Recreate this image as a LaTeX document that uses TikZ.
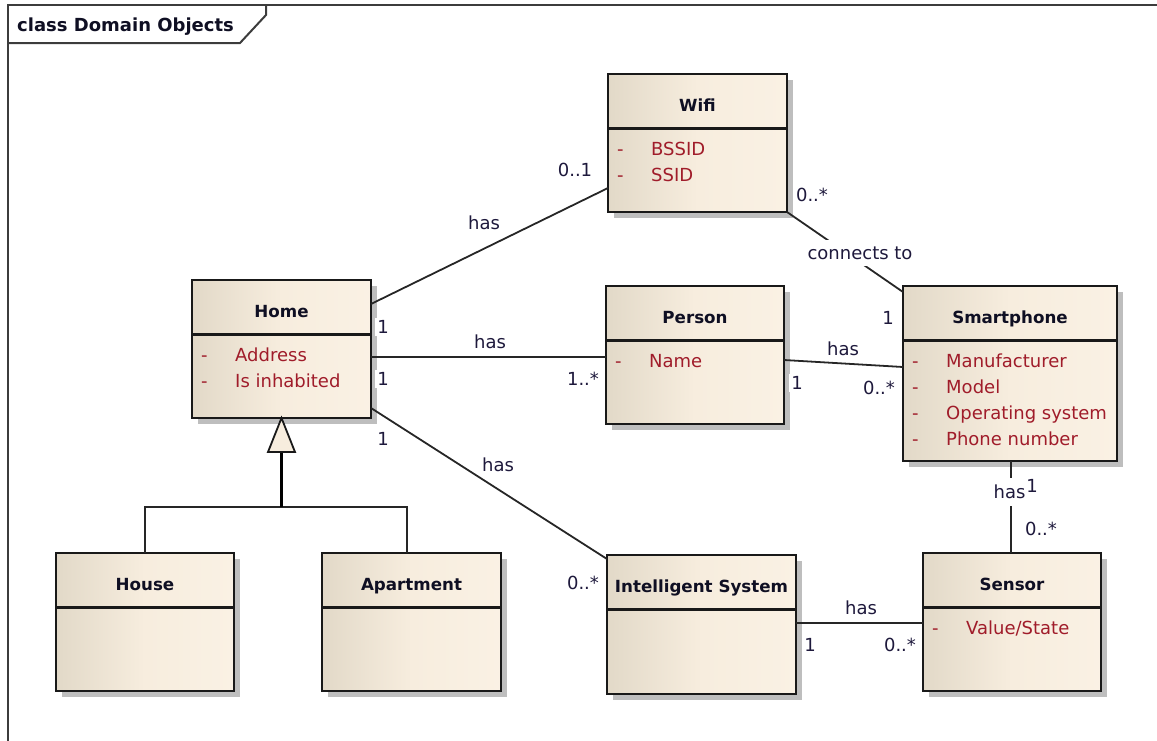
\documentclass[tikz,border=0pt]{standalone}
\usepackage{fontspec}
\setmainfont{DejaVu Sans}
\definecolor{attrc}{RGB}{160,28,42}
\definecolor{namec}{RGB}{15,15,35}
\definecolor{labc}{RGB}{30,25,60}
\definecolor{boxl}{RGB}{226,217,200}
\definecolor{boxm}{RGB}{247,237,222}
\definecolor{boxr}{RGB}{250,241,228}
\definecolor{shad}{RGB}{190,190,190}
\definecolor{framec}{RGB}{60,60,60}
\tikzset{
  classbox/.style={draw=black!90, line width=2.1pt, left color=boxl, right color=boxr, middle color=boxm, inner sep=0pt, outer sep=0pt},
  boxshadow/.style={fill=shad},
  boxline/.style={draw=black!90, line width=2.1pt},
  classname/.style={font=\fontsize{16.7}{18}\selectfont\bfseries, text=namec, inner sep=0pt},
  titletext/.style={font=\fontsize{18}{20}\selectfont\bfseries, text=namec, inner sep=0pt},
  attr/.style={font=\fontsize{18}{20}\selectfont, text=attrc, inner sep=0pt},
  lab/.style={font=\fontsize{18}{20}\selectfont, text=labc, fill=white, inner sep=2pt},
  assoc/.style={draw=black!85, line width=1.8pt},
  framestyle/.style={draw=framec, line width=2pt},
}
% #1 node name, #2 left, #3 top, #4 right, #5 bottom, #6 title
\newcommand\umlclass[6]{%
  \fill[boxshadow] (#2+6,#3+6) rectangle (#4+6,#5+6);
  \node[classbox, minimum width=#4-#2, minimum height=#5-#3] (#1) at ({(#2+#4)/2},{(#3+#5)/2}) {};
  \draw[boxline] (#2,#3+54.5) -- (#4,#3+54.5);
  \node[classname, anchor=base] (#1-name) at ({(#2+#4)/2},#3+37) {#6};
}
% #1 node name, #2 box left, #3 baseline, #4 text
\newcommand\umlattr[4]{%
  \node[attr, anchor=base west] (#1-dash) at (#2+9,#3) {-};
  \node[attr, anchor=base west] (#1) at (#2+43,#3) {#4};
}
\begin{document}
\begin{tikzpicture}[x=1pt,y=-1pt]
\useasboundingbox (0,0) rectangle (1157,740);
% frame
\draw[framestyle] (8,745) -- (8,5) -- (1162,5);
\draw[framestyle] (8,43) -- (240,43) -- (266,15) -- (266,5);
\node[titletext, anchor=base west] (title) at (17,31) {class Domain Objects};

% classes
\umlclass{wifi}{608}{74}{787}{212}{Wifi}
\umlattr{bssid}{608}{155.5}{BSSID}
\umlattr{ssid}{608}{181.5}{SSID}

\umlclass{home}{192}{280}{371}{418}{Home}
\umlattr{address}{192}{361.5}{Address}
\umlattr{inhab}{192}{387.5}{Is inhabited}

\umlclass{person}{606}{286}{784}{424}{Person}
\umlattr{pname}{606}{367.5}{Name}

\umlclass{phone}{903}{286}{1117}{461}{Smartphone}
\umlattr{manu}{903}{367.5}{Manufacturer}
\umlattr{model}{903}{393.5}{Model}
\umlattr{os}{903}{419.5}{Operating system}
\umlattr{pnum}{903}{445.5}{Phone number}

\umlclass{house}{56}{553}{234}{691}{House}
\umlclass{apt}{322}{553}{501}{691}{Apartment}
\umlclass{is}{607}{555}{796}{694}{Intelligent System}

\umlclass{sensor}{923}{553}{1101}{691}{Sensor}
\umlattr{value}{923}{634.5}{Value/State}

% generalization
\coordinate (gen) at (281.5,507);
\coordinate (tri) at (281.5,452);
\draw[assoc] (house.north) |- (gen) -| ([xshift=-4.5pt]apt.north);
\draw[draw=black, line width=3.4pt] (gen) -- (tri);
\draw[draw=black!90, line width=1.8pt, fill=boxm, line join=miter] (home.south) -- (268,452) -- (295,452) -- cycle;

% associations
\draw[assoc] ([yshift=-24pt]home.north east) -- ([yshift=24pt]wifi.south west);
\draw[assoc] ([yshift=-8pt]home.east) -- ([yshift=-8pt]home.east -| person.west);
\draw[assoc] ([yshift=10pt]home.south east) -- ([yshift=-4pt]is.north west);
\draw[assoc] (wifi.south east) -- ([yshift=-6pt]phone.north west);
\draw[assoc] ([yshift=-5pt]person.east) -- ([yshift=-81pt]phone.north west);
\draw[assoc] ([xshift=1pt]phone.south) -- ([xshift=-1pt]sensor.north);
\draw[assoc] ([yshift=1.5pt]is.east) -- ([yshift=1.5pt]is.east -| sensor.west);

% labels
\node[lab] (l1) at (575,170) {0..1};
\node[lab] (l2) at (484,223) {has};
\node[lab] (l3) at (383,327) {1};
\node[lab] (l4) at (490,342) {has};
\node[lab] (l5) at (383,379) {1};
\node[lab] (l6) at (583,379) {1..*};
\node[lab] (l7) at (383,439) {1};
\node[lab] (l8) at (498,465) {has};
\node[lab] (l9) at (583,583) {0..*};
\node[lab] (l10) at (812,195) {0..*};
\node[lab, inner ysep=6.3pt, inner xsep=1pt] (l11) at (860,253) {connects to};
\node[lab] (l12) at (888,318) {1};
\node[lab] (l13) at (843,349) {has};
\node[lab] (l14) at (797,383) {1};
\node[lab] (l15) at (879,388) {0..*};
\node[lab, inner ysep=7pt, inner xsep=1pt] (l16) at (1009.5,492) {has};
\node[lab, inner sep=0.5pt] (l17) at (1032,486) {1};
\node[lab] (l18) at (1041,529) {0..*};
\node[lab] (l19) at (861,608) {has};
\node[lab] (l20) at (810,645) {1};
\node[lab] (l21) at (900,645) {0..*};
\end{tikzpicture}
\end{document}
